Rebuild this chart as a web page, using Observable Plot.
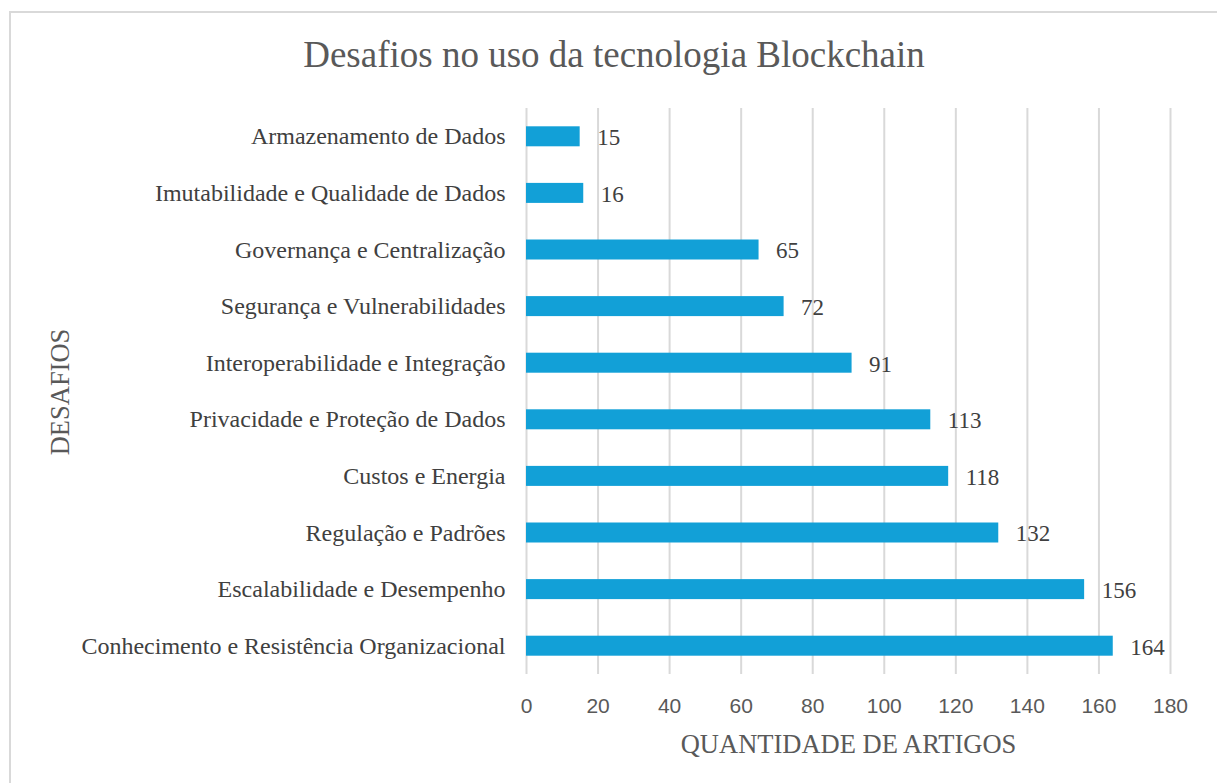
<!DOCTYPE html>
<html>
<head>
<meta charset="utf-8">
<script src="https://cdn.jsdelivr.net/npm/d3@7"></script>
<script src="https://cdn.jsdelivr.net/npm/@observablehq/plot@0.6"></script>
<style>
  body { margin: 0; background: #fff; }
  #wrap { position: relative; width: 1217px; height: 783px; overflow: hidden; }
  #frame { position: absolute; left: 9px; top: 11px; width: 1230px; height: 800px; border: 2px solid #d9d9d9; box-sizing: border-box; }
  #title { position: absolute; left: 0; width: 1228px; top: 33px; text-align: center; font-family: "Liberation Serif", serif; font-size: 37px; color: #595959; }
  #ylabel { position: absolute; left: 60px; top: 392px; transform: translate(-50%, -50%) rotate(-90deg); font-family: "Liberation Serif", serif; font-size: 26.5px; color: #595959; white-space: nowrap; }
  #chart { position: absolute; left: 0; top: 0; }
</style>
</head>
<body>
<div id="wrap">
  <div id="frame"></div>
  <div id="chart"></div>
  <div id="title">Desafios no uso da tecnologia Blockchain</div>
  <div id="ylabel">DESAFIOS</div>
</div>
<script>
const categories = [
  "Armazenamento de Dados",
  "Imutabilidade e Qualidade de Dados",
  "Governança e Centralização",
  "Segurança e Vulnerabilidades",
  "Interoperabilidade e Integração",
  "Privacidade e Proteção de Dados",
  "Custos e Energia",
  "Regulação e Padrões",
  "Escalabilidade e Desempenho",
  "Conhecimento e Resistência Organizacional"
];
const values = [15, 16, 65, 72, 91, 113, 118, 132, 156, 164];
const xTicks = [0, 20, 40, 60, 80, 100, 120, 140, 160, 180];

const data = categories.map((c, i) => ({category: c, value: values[i]}));

const chart = Plot.plot({
  width: 1217,
  height: 783,
  marginLeft: 526,
  marginRight: 47,
  marginTop: 108,
  marginBottom: 109,
  style: {background: "transparent", overflow: "visible"},
  x: {domain: [0, 180], ticks: xTicks, label: null},
  y: {domain: categories, padding: 0, round: false, label: null},
  marks: [
    Plot.gridX(xTicks, {stroke: "#d9d9d9", strokeWidth: 2, strokeOpacity: 1}),
    Plot.barX(data, {x: "value", y: "category", fill: "#12a0d7", insetTop: 18.3, insetBottom: 18.3}),
    Plot.text(data, {x: "value", y: "category", text: d => String(d.value), textAnchor: "start", dx: 17, dy: 1, fontFamily: "Liberation Serif", fontSize: 23, fill: "#404040"}),
    Plot.axisY({tickSize: 0, tickPadding: 21, fontFamily: "Liberation Serif", fontSize: 24, color: "#404040", label: null}),
    Plot.axisX(xTicks, {tickSize: 0, tickPadding: 24, fontFamily: "Liberation Sans", fontSize: 21, color: "#595959", label: null}),
    Plot.text(["QUANTIDADE DE ARTIGOS"], {frameAnchor: "bottom", dy: 78, fontFamily: "Liberation Serif", fontSize: 26.5, fill: "#595959"})
  ]
});
document.getElementById("chart").appendChild(chart);
</script>
</body>
</html>
